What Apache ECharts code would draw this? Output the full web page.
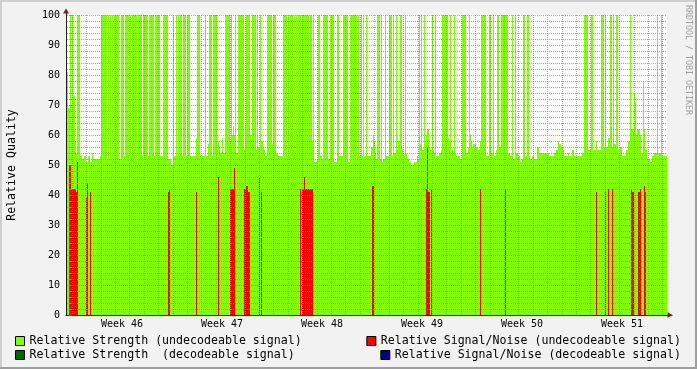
<!DOCTYPE html>
<html><head><meta charset="utf-8">
<script src="https://cdn.jsdelivr.net/npm/echarts@6/dist/echarts.min.js"></script>
<style>html,body{margin:0;padding:0;background:#f2f2f2}#c{width:697px;height:369px}</style>
</head><body><div id="c"></div><script>
const FONT = '"DejaVu Sans Mono", monospace';
const weekNumbers = [46, 47, 48, 49, 50, 51];
const weekLabelDays = [3.5, 10.5, 17.5, 24.5, 31.5, 38.5];
const firstSampleDay = -0.35;   // days relative to Monday of week 46
const sampleDays = 0.07;        // one sample per column
const sampleCount = 600;

// runs: [first sample index, value] ; each run lasts until the next run starts
const strengthUndecodeable = [
[0,81],[1,69],[3,100],[4,64],[5,100],[6,73],[8,58],[9,54],[10,100],[13,53],[15,52],[17,53],[19,51],[21,53],[23,51],[25,54],[26,52],
[33,53],[34,100],[40,52],[41,100],[42,52],[43,100],[44,52],[45,100],[46,52],[47,100],[52,52],[54,100],[57,53],[58,100],[62,51],[63,100],
[64,53],[65,100],[70,50],[71,100],[75,53],[76,100],[81,53],[82,100],[87,53],[88,100],[93,53],[96,100],[101,52],[104,50],[106,100],[107,53],
[109,100],[110,53],[111,100],[112,53],[113,100],[115,53],[116,100],[119,53],[120,100],[123,53],[129,59],[130,100],[133,53],[138,100],[139,53],
[141,57],[142,100],[145,53],[146,100],[150,55],[151,58],[152,56],[153,54],[155,59],[156,54],[158,100],[163,58],[164,100],[165,60],[166,63],
[167,60],[168,100],[169,54],[171,100],[177,55],[178,64],[179,100],[183,60],[184,53],[185,100],[189,55],[190,100],[191,56],[193,100],[194,58],
[196,56],[197,55],[198,53],[200,100],[205,57],[206,100],[209,54],[211,53],[216,100],[220,53],[221,100],[222,53],[223,100],[226,55],[227,100],
[228,55],[229,100],[230,60],[231,100],[234,60],[235,100],[242,67],[243,100],[245,58],[246,100],[247,51],[250,52],[251,100],[253,53],[255,52],
[256,100],[261,52],[263,100],[267,51],[270,100],[272,53],[276,100],[281,51],[283,100],[290,53],[291,100],[292,53],[294,100],[295,53],[296,100],
[297,53],[299,100],[300,53],[304,56],[306,60],[307,58],[308,54],[309,52],[310,100],[313,52],[314,100],[315,51],[316,52],[318,100],[319,53],
[322,100],[325,53],[326,100],[327,54],[329,100],[330,55],[331,58],[333,100],[335,55],[336,53],[338,100],[339,54],[340,52],[342,51],[344,50],
[347,51],[350,53],[351,52],[352,100],[353,57],[354,100],[355,55],[357,100],[358,57],[359,60],[360,62],[362,56],[363,55],[365,100],[366,55],
[367,54],[368,100],[369,53],[372,54],[374,55],[375,100],[381,59],[382,55],[383,100],[384,54],[385,55],[386,54],[387,100],[388,54],[389,53],
[393,52],[395,100],[399,54],[401,56],[402,100],[403,60],[404,58],[405,56],[406,57],[409,56],[411,55],[413,58],[414,100],[419,53],[422,100],
[424,54],[426,100],[427,53],[429,55],[430,100],[432,56],[434,100],[441,54],[443,53],[445,100],[446,52],[448,100],[449,54],[451,53],[453,51],
[455,52],[456,100],[458,53],[460,100],[462,53],[463,52],[465,53],[467,52],[470,56],[472,54],[482,53],[487,54],[489,55],[491,58],[492,57],
[494,56],[496,55],[497,53],[501,54],[502,53],[505,55],[507,53],[515,54],[517,100],[521,55],[524,100],[526,55],[529,58],[530,55],[534,100],
[537,56],[538,100],[539,56],[541,59],[543,100],[545,56],[546,100],[547,57],[549,100],[551,55],[553,56],[555,53],[559,55],[561,58],[563,100],
[564,62],[566,61],[567,74],[568,71],[569,60],[570,62],[573,60],[574,53],[575,54],[576,78],[577,62],[578,55],[580,52],[583,51],[585,53],
[587,54],[590,100],[591,54],[594,100],[595,53]
];
const snrUndecodeable = [
[2,50],[4,42],[9,41],[10,51],[11,0],[19,39],[20,44],[21,0],[23,41],[24,0],[101,41],[102,42],[103,0],[129,41],[130,0],[151,46],[152,0],
[163,42],[167,49],[168,0],[177,42],[179,43],[181,41],[183,0],[192,46],[193,0],[194,41],[195,0],[233,42],[234,0],[235,42],[237,46],[238,42],
[246,0],[305,43],[307,0],[359,42],[360,56],[361,41],[363,0],[364,42],[365,0],[413,42],[414,0],[438,42],[439,0],[529,41],[530,0],[538,41],
[539,0],[541,42],[542,0],[545,42],[546,0],[564,42],[565,41],[567,0],[571,41],[573,42],[574,0],[577,43],[578,41],[579,0]
];
const strengthDecodeable = [];
const snrDecodeable = [];

const seriesNames = [
  'Relative Strength (undecodeable signal)',
  'Relative Signal/Noise (undecodeable signal)',
  'Relative Strength  (decodeable signal)',
  'Relative Signal/Noise (decodeable signal)'
];
const seriesColors = ['#80ff00', '#ff0000', '#006600', '#000080'];

function toRects(runs) {
  return runs.map((r, i) => {
    const end = i + 1 < runs.length ? runs[i + 1][0] : sampleCount;
    return [firstSampleDay + r[0] * sampleDays, firstSampleDay + end * sampleDays, r[1]];
  });
}
function renderRun(params, api) {
  const v = api.value(2);
  if (!(v > 0)) return null;
  const a = api.coord([api.value(0), v]);
  const b = api.coord([api.value(1), 0]);
  const x0 = Math.round(a[0]), x1 = Math.round(b[0]);
  const y0 = Math.round(a[1]), y1 = Math.round(b[1]);
  return { type: 'rect', shape: { x: x0, y: y0, width: x1 - x0, height: y1 - y0 },
           style: { fill: api.visual('color') } };
}

const MINOR = 'rgba(143,143,143,0.75)';
const MAJOR = 'rgba(222,79,79,0.6)';
const lastDay = firstSampleDay + sampleCount * sampleDays;

const chart = echarts.init(document.getElementById('c'), null, { renderer: 'canvas', width: 697, height: 369 });
const legendCommon = {
  orient: 'horizontal', padding: 0, itemWidth: 9, itemHeight: 9, icon: 'rect', selectedMode: false,
  itemStyle: { borderColor: '#000', borderWidth: 1 },
  textStyle: { fontFamily: FONT, fontSize: 11.6, color: '#000', lineHeight: 14 }
};
const allData = [strengthUndecodeable, snrUndecodeable, strengthDecodeable, snrDecodeable];

chart.setOption({
  animation: false,
  backgroundColor: '#f2f2f2',
  grid: [
    { left: 67, top: 15, width: 600, height: 300, show: true, backgroundColor: '#ffffff', borderWidth: 0, outerBoundsMode: 'none' },
    { left: 72, top: 15, width: 595, height: 300, outerBoundsMode: 'none' },
    { left: 66, top: 10, width: 606, height: 305, outerBoundsMode: 'none' },
    { left: 66, top: 11, width: 604, height: 304, outerBoundsMode: 'none' }
  ],
  xAxis: [
    { type: 'value', gridIndex: 0, min: firstSampleDay, max: lastDay,
      axisLine: { show: false }, axisTick: { show: false }, splitLine: { show: false },
      axisLabel: { customValues: weekLabelDays, margin: 4, fontFamily: FONT, fontSize: 10, color: '#000',
        formatter: v => 'Week ' + weekNumbers[Math.round((v - weekLabelDays[0]) / 7)] } },
    { type: 'value', gridIndex: 1, min: 0, max: lastDay - 0.35, interval: 1, z: 5,
      axisLine: { show: false }, axisTick: { show: false }, axisLabel: { show: false },
      splitLine: { show: true, showMaxLine: false,
        lineStyle: { color: ['rgba(0,0,0,0)', MINOR, MINOR, MINOR, MINOR, MINOR, MINOR], type: [1, 1], width: 1 } } },
    { type: 'value', gridIndex: 1, min: 0, max: lastDay - 0.35, interval: 7, z: 6,
      axisLine: { show: false }, axisTick: { show: false }, axisLabel: { show: false },
      splitLine: { show: true, showMaxLine: false, lineStyle: { color: MAJOR, type: [1, 1], width: 1 } } },
    { type: 'value', gridIndex: 2, min: 0, max: 1,
      axisLine: { show: true, onZero: false, lineStyle: { color: '#1f1f1f', width: 1 } },
      axisTick: { show: false }, axisLabel: { show: false }, splitLine: { show: false } },
    { type: 'value', gridIndex: 3, min: 0, max: 1,
      axisLine: { show: true, onZero: false, symbol: ['none', 'triangle'], symbolSize: [6, 5],
        lineStyle: { color: '#801f1f', width: 1, opacity: 0 } },
      axisTick: { show: false }, axisLabel: { show: false }, splitLine: { show: false } }
  ],
  yAxis: [
    { type: 'value', gridIndex: 0, min: 0, max: 100, interval: 10, z: 5,
      axisLine: { show: false },
      axisTick: { show: true, length: 3, lineStyle: { color: MAJOR } },
      minorTick: { show: true, splitNumber: 5, length: 2, lineStyle: { color: MINOR } },
      splitLine: { show: true, showMinLine: false, lineStyle: { color: MAJOR, type: [1, 1], width: 1 } },
      minorSplitLine: { show: true, lineStyle: { color: MINOR, type: [1, 1], width: 1 } },
      axisLabel: { margin: 7, fontFamily: FONT, fontSize: 10, color: '#000' },
      name: 'Relative Quality', nameLocation: 'middle', nameGap: 49,
      nameTextStyle: { fontFamily: FONT, fontSize: 11.6, color: '#000' } },
    { type: 'value', gridIndex: 1, min: 0, max: 100, show: false },
    { type: 'value', gridIndex: 2, min: 0, max: 1,
      axisLine: { show: true, onZero: false, lineStyle: { color: '#1f1f1f', width: 1 } },
      axisTick: { show: false }, axisLabel: { show: false }, splitLine: { show: false } },
    { type: 'value', gridIndex: 3, min: 0, max: 1,
      axisLine: { show: true, onZero: false, symbol: ['none', 'triangle'], symbolSize: [6, 5],
        lineStyle: { color: '#801f1f', width: 1, opacity: 0 } },
      axisTick: { show: false }, axisLabel: { show: false }, splitLine: { show: false } }
  ],
  legend: [
    Object.assign({ data: [seriesNames[0]], left: 15, top: 334 }, legendCommon),
    Object.assign({ data: [seriesNames[1]], right: 16, top: 334 }, legendCommon),
    Object.assign({ data: [seriesNames[2]], left: 15, top: 348 }, legendCommon),
    Object.assign({ data: [seriesNames[3]], right: 16, top: 348 }, legendCommon)
  ],
  series: seriesNames.map((name, i) => ({
    name: name, type: 'custom', xAxisIndex: 0, yAxisIndex: 0, z: 2 + i * 0.01,
    renderItem: renderRun, encode: { x: [0, 1], y: 2 },
    itemStyle: { color: seriesColors[i] },
    data: toRects(allData[i])
  })),
  graphic: [
    { type: 'text', x: 692, y: 5, rotation: -Math.PI / 2,
      style: { text: 'RRDTOOL / TOBI OETIKER', fontFamily: FONT, fontSize: 8.3, fill: '#a0a0a0', align: 'left', verticalAlign: 'top' } },
    { type: 'rect', shape: { x: 0, y: 0, width: 697, height: 2 }, style: { fill: '#cfcfcf' } },
    { type: 'rect', shape: { x: 0, y: 0, width: 2, height: 369 }, style: { fill: '#cfcfcf' } },
    { type: 'rect', shape: { x: 0, y: 367, width: 697, height: 2 }, style: { fill: '#9e9e9e' } },
    { type: 'rect', shape: { x: 695, y: 0, width: 2, height: 369 }, style: { fill: '#9e9e9e' } }
  ]
});
</script></body></html>
